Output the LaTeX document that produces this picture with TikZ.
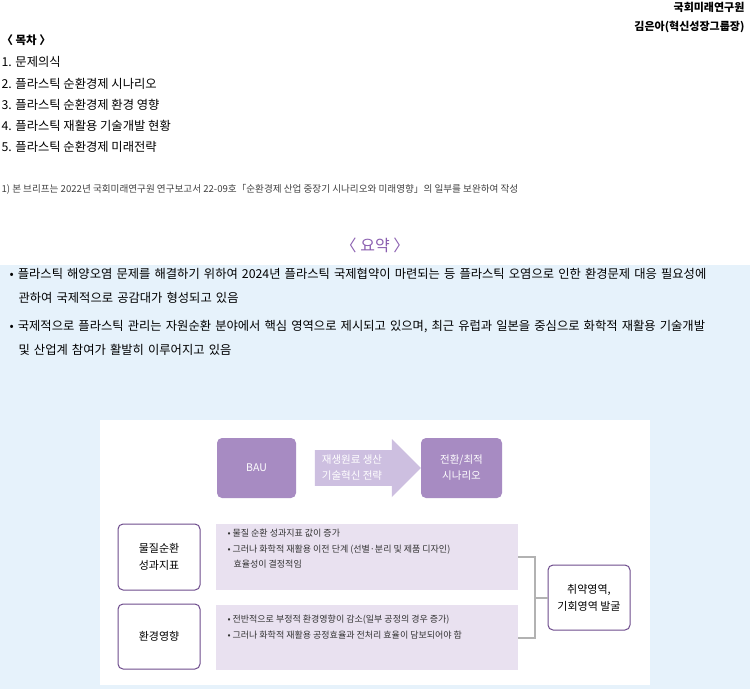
\documentclass[tikz,border=0pt]{standalone}
\usepackage{fontspec}
\setmainfont{Noto Sans CJK KR}
\usetikzlibrary{positioning, shapes.arrows}
\definecolor{sumbg}{HTML}{E6F2FB}
\definecolor{violet1}{HTML}{A78BC2}
\definecolor{violet2}{HTML}{CDBFE0}
\definecolor{lavstrip}{HTML}{E9E1F0}
\definecolor{titlevio}{HTML}{8A5FB0}
\tikzset{
  darkbox/.style={fill=violet1, rounded corners=5pt, text=white, align=center, font=\fontsize{10.5}{16}\selectfont, inner sep=0pt},
  framebox/.style={draw=titlevio!80!black, line width=1pt, fill=white, rounded corners=5pt, align=center, font=\fontsize{11}{17}\selectfont, inner sep=0pt},
  strip/.style={fill=lavstrip, inner sep=0pt},
  striptext/.style={anchor=west, align=left, font=\fontsize{9}{15.5}\selectfont, text=black!80},
  toc/.style={anchor=west, font=\fontsize{12.3}{14}\selectfont},
  sumtext/.style={anchor=north west, align=left, font=\fontsize{12.3}{24}\selectfont, text width=725pt},
}
\begin{document}
\begin{tikzpicture}[x=1pt, y=-1pt]
  \useasboundingbox (0,0) rectangle (750,689);
  % header
  \node[anchor=east, font=\bfseries\fontsize{11}{13}\selectfont] (inst) at (748,7) {국회미래연구원};
  \node[anchor=east, font=\bfseries\fontsize{11}{13}\selectfont] (auth) at (748,27) {김은아(혁신성장그룹장)};
  \node[toc, font=\bfseries\fontsize{11.5}{14}\selectfont] (toctitle) at (-2,40) {〈 목차 〉};
  \node[toc] (t1) at (-2,62) {1. 문제의식};
  \node[toc] (t2) at (-2,84) {2. 플라스틱 순환경제 시나리오};
  \node[toc] (t3) at (-2,105) {3. 플라스틱 순환경제 환경 영향};
  \node[toc] (t4) at (-2,126) {4. 플라스틱 재활용 기술개발 현황};
  \node[toc] (t5) at (-2,147) {5. 플라스틱 순환경제 미래전략};
  \node[anchor=west, font=\itshape\fontsize{9.6}{11}\selectfont, text=black!75] (fn) at (-2,189)
    {1) 본 브리프는 2022년 국회미래연구원 연구보고서 22-09호「순환경제 산업 중장기 시나리오와 미래영향」의 일부를 보완하여 작성};
  \node[font=\fontsize{16}{18}\selectfont, text=titlevio] (sumtitle) at (375,245) {〈 요약 〉};

  % summary area
  \fill[sumbg] (0,265) rectangle (750,689);
  \node[sumtext] (s1) at (6,265) {• 플라스틱 해양오염 문제를 해결하기 위하여 2024년 플라스틱 국제협약이 마련되는 등 플라스틱 오염으로 인한 환경문제 대응 필요성에\\\hspace*{9pt}관하여 국제적으로 공감대가 형성되고 있음};
  \node[sumtext] (s2) at (6,317) {• 국제적으로 플라스틱 관리는 자원순환 분야에서 핵심 영역으로 제시되고 있으며, 최근 유럽과 일본을 중심으로 화학적 재활용 기술개발\\\hspace*{9pt}및 산업계 참여가 활발히 이루어지고 있음};

  % diagram
  \fill[white] (100,420) rectangle (650,685);
  \node[darkbox, minimum width=79pt, minimum height=60pt] (bau) at (256.5,468) {BAU};
  \node[single arrow, fill=violet2, minimum width=58pt, single arrow head extend=8pt, single arrow tip angle=90,
        minimum height=106pt, inner sep=0pt, text=white, align=center, font=\fontsize{10.5}{16}\selectfont] (strat) at (359,468)
        {\hspace*{-14pt}재생원료 생산\\\hspace*{-14pt}기술혁신 전략};
  \node[darkbox, minimum width=81pt, minimum height=60pt] (alt) at (461.5,468) {전환/최적\\시나리오};

  \node[framebox, minimum width=82pt, minimum height=66pt] (mat) at (159,557) {물질순환\\성과지표};
  \node[framebox, minimum width=82pt, minimum height=65pt] (env) at (159,636.5) {환경영향};
  \node[strip, minimum width=302pt, minimum height=66pt] (matstrip) at (367,557) {};
  \node[strip, minimum width=302pt, minimum height=65pt] (envstrip) at (367,637.5) {};
  \node[striptext] (matt) at (224,549) {• 물질 순환 성과지표 값이 증가\\• 그러나 화학적 재활용 이전 단계 (선별·분리 및 제품 디자인)\\\hspace*{6pt}효율성이 결정적임};
  \node[striptext] (envt) at (224,627) {• 전반적으로 부정적 환경영향이 감소(일부 공정의 경우 증가)\\• 그러나 화학적 재활용 공정효율과 전처리 효율이 담보되어야 함};
  \node[framebox, minimum width=82pt, minimum height=65pt] (weak) at (589,597.5) {취약영역,\\기회영역 발굴};

  \coordinate (bj) at (535,597.5);
  \draw[black!30, line width=2pt] (matstrip.east) -| (bj) |- (envstrip.east);
  \draw[black!30, line width=2pt] (bj) -- (weak.west);
\end{tikzpicture}
\end{document}
